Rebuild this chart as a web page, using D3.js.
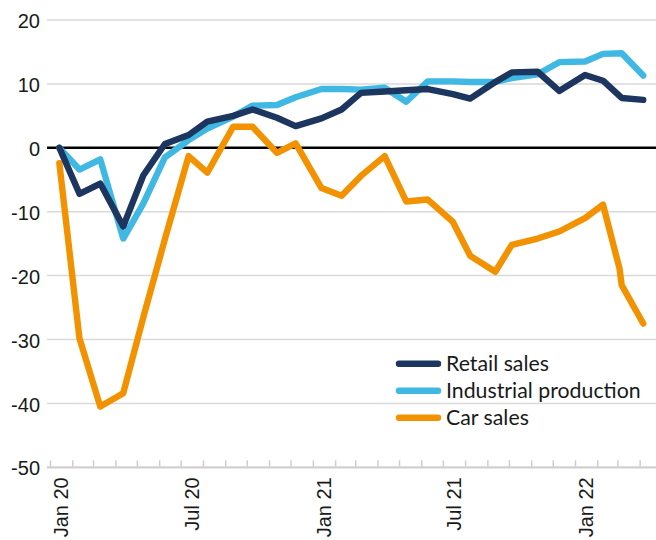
<!DOCTYPE html>
<html>
<head>
<meta charset="utf-8">
<script src="https://cdn.jsdelivr.net/npm/d3@7/dist/d3.min.js"></script>
<style>
  html, body { margin: 0; padding: 0; background: #fff; }
  svg { display: block; }
</style>
</head>
<body>
<svg id="chart" width="656" height="540"></svg>
<script>
// ---- Data ----
const monthDates = ["2020-01-14","2020-02-11","2020-03-11","2020-04-12","2020-05-10","2020-06-09",
  "2020-07-12","2020-08-07","2020-09-12","2020-10-09","2020-11-12","2020-12-08",
  "2021-01-13","2021-02-10","2021-03-09","2021-04-11","2021-05-11","2021-06-10",
  "2021-07-15","2021-08-08","2021-09-12","2021-10-05","2021-11-10","2021-12-10",
  "2022-01-15","2022-02-09","2022-03-07","2022-04-06"];
const retailSales = [0, -7.2, -5.6, -12.3, -4.3, 0.6, 2.0, 4.1, 5.0, 6.0, 4.7, 3.4,
  4.6, 6.0, 8.6, 8.8, 9.0, 9.2, 8.4, 7.7, 10.3, 11.8, 11.9, 8.9, 11.4, 10.5, 7.8, 7.5];
const industrialProduction = [0, -3.4, -1.8, -14.2, -8.7, -1.5, 1.2, 3.0, 4.9, 6.6, 6.7, 7.9,
  9.2, 9.2, 9.1, 9.4, 7.2, 10.4, 10.4, 10.3, 10.3, 10.9, 11.5, 13.4, 13.5, 14.7, 14.8, 11.3];
const carDates = ["2020-01-14","2020-02-11","2020-03-11","2020-04-12","2020-05-10","2020-06-09",
  "2020-07-12","2020-08-07","2020-09-12","2020-10-09","2020-11-12","2020-12-08",
  "2021-01-13","2021-02-10","2021-03-09","2021-04-11","2021-05-11","2021-06-10",
  "2021-07-15","2021-08-08","2021-09-12","2021-10-05","2021-11-10","2021-12-10",
  "2022-01-15","2022-02-09","2022-03-04","2022-03-07","2022-04-06"];
const carSales = [-2.4, -29.8, -40.5, -38.4, -26.5, -14.3, -1.3, -3.9, 3.3, 3.3, -0.8, 0.7,
  -6.3, -7.5, -4.4, -1.3, -8.4, -8.1, -11.6, -16.9, -19.4, -15.2, -14.2, -13.1,
  -11.0, -8.9, -18.9, -21.5, -27.5];
const yTicks = [-50, -40, -30, -20, -10, 0, 10, 20];
const xLabelDates = ["2020-01-16","2020-07-16","2021-01-16","2021-07-16","2022-01-16"];
const seriesNames = ["Retail sales", "Industrial production", "Car sales"];
const seriesColors = ["#1d365f", "#40b8e4", "#f39200"];

// ---- Setup ----
const parse = d3.utcParse("%Y-%m-%d");
const svg = d3.select("#chart");
const left = 47, right = 656;

const x = d3.scaleUtc()
  .domain([Date.UTC(2020, 0, 1), Date.UTC(2022, 0, 1)])
  .range([50, 575]);
const y = d3.scaleLinear().domain([-50, 20]).range([467.3, 20]);

const axisFont = "'Liberation Sans', Arial, sans-serif";
const legendFont = "Lato, 'Open Sans', sans-serif";

// Gridlines
const grid = svg.append("g").attr("class", "grid");
grid.selectAll("line")
  .data(yTicks.filter(v => v !== 0 && v !== -50))
  .join("line")
  .attr("x1", left).attr("x2", right)
  .attr("y1", d => y(d)).attr("y2", d => y(d))
  .attr("stroke", "#d9d9d9").attr("stroke-width", 1.5);

// Bottom axis line and month ticks (inward)
const monthTicks = d3.utcMonths(new Date(Date.UTC(2020, 0, 1)), new Date(Date.UTC(2022, 4, 1)));
const xTickAxis = d3.axisBottom(x).tickValues(monthTicks).tickSize(-7).tickFormat("");
const gx = svg.append("g").attr("transform", `translate(0,${y(-50)})`).call(xTickAxis);
gx.select(".domain").remove();
gx.selectAll(".tick line").attr("stroke", "#cfcfcf").attr("stroke-width", 1.5);
svg.append("line")
  .attr("x1", left).attr("x2", right)
  .attr("y1", y(-50)).attr("y2", y(-50))
  .attr("stroke", "#d0d0d0").attr("stroke-width", 2.2);

// X labels (rotated)
const xLabelAxis = d3.axisBottom(x)
  .tickValues(xLabelDates.map(parse))
  .tickSize(0)
  .tickFormat(d3.utcFormat("%b %y"));
const gxl = svg.append("g").attr("transform", `translate(0,${y(-50)})`).call(xLabelAxis);
gxl.select(".domain").remove();
gxl.selectAll(".tick text")
  .attr("font-family", axisFont)
  .attr("font-size", 20)
  .attr("fill", "#1a1a1a")
  .attr("text-anchor", "end")
  .attr("transform", "rotate(-90)")
  .attr("x", -10)
  .attr("y", 0)
  .attr("dy", "0.36em");

// Y labels
const yAxis = d3.axisLeft(y).tickValues(yTicks).tickSize(0).tickPadding(7)
  .tickFormat(d => String(d));
const gy = svg.append("g").attr("transform", `translate(${left},0)`).call(yAxis);
gy.select(".domain").remove();
gy.selectAll(".tick text")
  .attr("font-family", axisFont)
  .attr("font-size", 20)
  .attr("fill", "#1a1a1a")
  .attr("dy", "0.38em");

// Zero line
svg.append("line")
  .attr("x1", left).attr("x2", right)
  .attr("y1", y(0)).attr("y2", y(0))
  .attr("stroke", "#000").attr("stroke-width", 2.4);

// Lines
const line = d3.line().x(d => x(d.date)).y(d => y(d.value));
const series = [
  { name: seriesNames[2], color: seriesColors[2], data: carDates.map((d, i) => ({ date: parse(d), value: carSales[i] })) },
  { name: seriesNames[1], color: seriesColors[1], data: monthDates.map((d, i) => ({ date: parse(d), value: industrialProduction[i] })) },
  { name: seriesNames[0], color: seriesColors[0], data: monthDates.map((d, i) => ({ date: parse(d), value: retailSales[i] })) }
];
svg.append("g").selectAll("path")
  .data(series)
  .join("path")
  .attr("d", s => line(s.data))
  .attr("fill", "none")
  .attr("stroke", s => s.color)
  .attr("stroke-width", 6.4)
  .attr("stroke-linejoin", "round")
  .attr("stroke-linecap", "round");

// Legend
const legend = svg.append("g").attr("transform", "translate(399,363.7)");
const items = legend.selectAll("g")
  .data(seriesNames)
  .join("g")
  .attr("transform", (d, i) => `translate(0,${i * 27})`);
items.append("line")
  .attr("x1", 0).attr("x2", 39)
  .attr("stroke", (d, i) => seriesColors[i])
  .attr("stroke-width", 6.4)
  .attr("stroke-linecap", "round");
items.append("text")
  .attr("x", 47)
  .attr("y", 0)
  .attr("dy", "0.35em")
  .attr("font-family", legendFont)
  .attr("font-size", 21.3)
  .attr("fill", "#1a1a1a")
  .text(d => d);
</script>
</body>
</html>
